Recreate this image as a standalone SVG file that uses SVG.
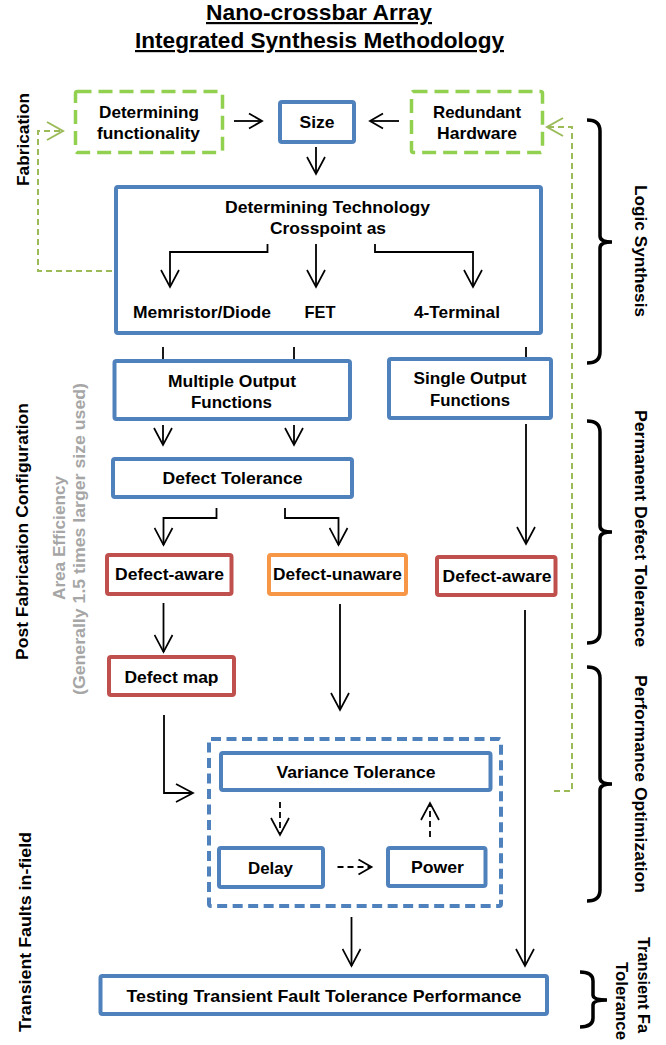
<svg xmlns="http://www.w3.org/2000/svg" width="666" height="1045" viewBox="0 0 666 1045">
<style>
text{font-family:"Liberation Sans",Arial,sans-serif;font-weight:bold;fill:#000;}
.t{font-size:17px;text-anchor:middle;}
.title{font-size:22px;text-anchor:middle;text-decoration:underline;}
.side{font-size:17px;text-anchor:middle;}
.gray{fill:#A6A6A6;}
.blue{fill:#fff;stroke:#4F81BD;stroke-width:4;}
.bluedash{fill:none;stroke:#4F81BD;stroke-width:4;stroke-dasharray:10 5.5;}
.red{fill:#fff;stroke:#C0504D;stroke-width:4;}
.orange{fill:#fff;stroke:#F79646;stroke-width:4;}
.green{fill:#fff;stroke:#92D050;stroke-width:3.5;stroke-dasharray:14 7;}
.c{fill:none;stroke:#000;stroke-width:1.8;}
.cd{fill:none;stroke:#000;stroke-width:1.8;stroke-dasharray:6 4;}
.g{fill:none;stroke:#9BBB59;stroke-width:2;stroke-dasharray:6 4;}
.br{fill:none;stroke:#000;stroke-width:3.5;}
</style>
<defs>
<marker id="ah" markerUnits="userSpaceOnUse" markerWidth="20" markerHeight="20" viewBox="0 0 20 20" refX="18" refY="10" orient="auto"><path d="M1,1 L18,10 L1,19" fill="none" stroke="#000" stroke-width="1.7"/></marker>
<marker id="ahs" markerUnits="userSpaceOnUse" markerWidth="20" markerHeight="20" viewBox="0 0 20 20" refX="16" refY="10" orient="auto"><path d="M3,2.5 L16,10 L3,17.5" fill="none" stroke="#000" stroke-width="1.8"/></marker>
<marker id="ahg" markerUnits="userSpaceOnUse" markerWidth="20" markerHeight="20" viewBox="0 0 20 20" refX="18" refY="10" orient="auto"><path d="M2,1 L18,10 L2,19" fill="none" stroke="#9BBB59" stroke-width="2"/></marker>
</defs>

<g id="title">
<text class="title" x="319" y="20" textLength="226" lengthAdjust="spacingAndGlyphs">Nano-crossbar Array</text>
<text class="title" x="319.5" y="48" textLength="369" lengthAdjust="spacingAndGlyphs">Integrated Synthesis Methodology</text>
</g>

<g id="n-detfunc"><rect class="green" x="75.5" y="91.5" width="147" height="61" rx="2"/>
<text class="t" x="149" y="118" textLength="100" lengthAdjust="spacingAndGlyphs">Determining</text>
<text class="t" x="148.5" y="139" textLength="103" lengthAdjust="spacingAndGlyphs">functionality</text></g>

<g id="n-size"><rect class="blue" x="280" y="102" width="74" height="40" rx="2"/>
<text class="t" x="317" y="128" textLength="35" lengthAdjust="spacingAndGlyphs">Size</text></g>

<g id="n-redundant"><rect class="green" x="411.5" y="91.5" width="131" height="61" rx="2"/>
<text class="t" x="477" y="118" textLength="88" lengthAdjust="spacingAndGlyphs">Redundant</text>
<text class="t" x="477" y="139" textLength="80" lengthAdjust="spacingAndGlyphs">Hardware</text></g>

<g id="n-tech"><rect class="blue" x="116" y="187" width="425" height="146" rx="2"/>
<text class="t" x="327.5" y="213" textLength="205" lengthAdjust="spacingAndGlyphs">Determining Technology</text>
<text class="t" x="328" y="234" textLength="116" lengthAdjust="spacingAndGlyphs">Crosspoint as</text>
<text class="t" x="202" y="318" textLength="138" lengthAdjust="spacingAndGlyphs">Memristor/Diode</text>
<text class="t" x="320" y="318" textLength="31" lengthAdjust="spacingAndGlyphs">FET</text>
<text class="t" x="457" y="318" textLength="86" lengthAdjust="spacingAndGlyphs">4-Terminal</text></g>

<g id="n-multi"><rect class="blue" x="114.5" y="361" width="235.5" height="58" rx="2"/>
<text class="t" x="232" y="387" textLength="128" lengthAdjust="spacingAndGlyphs">Multiple Output</text>
<text class="t" x="231.5" y="408" textLength="81" lengthAdjust="spacingAndGlyphs">Functions</text></g>

<g id="n-single"><rect class="blue" x="389" y="359" width="162" height="59" rx="2"/>
<text class="t" x="470" y="384" textLength="113" lengthAdjust="spacingAndGlyphs">Single Output</text>
<text class="t" x="470" y="406" textLength="80" lengthAdjust="spacingAndGlyphs">Functions</text></g>

<g id="n-deftol"><rect class="blue" x="113" y="459" width="239" height="38" rx="2"/>
<text class="t" x="232.5" y="484" textLength="140" lengthAdjust="spacingAndGlyphs">Defect Tolerance</text></g>

<g id="n-aware1"><rect class="red" x="107" y="555" width="124.5" height="39" rx="2"/>
<text class="t" x="169.5" y="580" textLength="109" lengthAdjust="spacingAndGlyphs">Defect-aware</text></g>

<g id="n-unaware"><rect class="orange" x="269" y="555" width="137" height="39" rx="2"/>
<text class="t" x="337.5" y="580" textLength="129" lengthAdjust="spacingAndGlyphs">Defect-unaware</text></g>

<g id="n-aware2"><rect class="red" x="437" y="557" width="118.5" height="38" rx="2"/>
<text class="t" x="497" y="582" textLength="109" lengthAdjust="spacingAndGlyphs">Defect-aware</text></g>

<g id="n-defmap"><rect class="red" x="109" y="657" width="125" height="38" rx="2"/>
<text class="t" x="171.5" y="683" textLength="94" lengthAdjust="spacingAndGlyphs">Defect map</text></g>

<g id="n-perf"><rect class="bluedash" x="209" y="739" width="292" height="167" rx="2"/></g>

<g id="n-variance"><rect class="blue" x="221" y="753" width="269.5" height="37" rx="2"/>
<text class="t" x="356" y="778" textLength="159" lengthAdjust="spacingAndGlyphs">Variance Tolerance</text></g>

<g id="n-delay"><rect class="blue" x="219" y="848" width="104" height="39" rx="2"/>
<text class="t" x="270.5" y="874" textLength="45" lengthAdjust="spacingAndGlyphs">Delay</text></g>

<g id="n-power"><rect class="blue" x="388" y="848" width="97.5" height="38" rx="2"/>
<text class="t" x="437.5" y="873" textLength="53" lengthAdjust="spacingAndGlyphs">Power</text></g>

<g id="n-testing"><rect class="blue" x="100.5" y="976" width="446.5" height="38" rx="2"/>
<text class="t" x="324" y="1002" textLength="395" lengthAdjust="spacingAndGlyphs">Testing Transient Fault Tolerance Performance</text></g>

<g id="connectors">
<path class="c" d="M234,121 L262,121" marker-end="url(#ahs)"/>
<path class="c" d="M399,121 L370,121" marker-end="url(#ahs)"/>
<path class="c" d="M316,147 L316,174" marker-end="url(#ah)"/>
<path class="c" d="M267.5,244 L267.5,252 L170,252 L170,287" marker-end="url(#ah)"/>
<path class="c" d="M316,244 L316,287" marker-end="url(#ah)"/>
<path class="c" d="M375,244 L375,252 L473,252 L473,287" marker-end="url(#ah)"/>
<path class="c" d="M163,347 L163,359"/>
<path class="c" d="M294,347 L294,359"/>
<path class="c" d="M526,347 L526,357"/>
<path class="c" d="M163,425 L163,445" marker-end="url(#ah)"/>
<path class="c" d="M294,425 L294,445" marker-end="url(#ah)"/>
<path class="c" d="M526,424 L526,544" marker-end="url(#ah)"/>
<path class="c" d="M216.5,508 L216.5,518 L163.5,518 L163.5,545" marker-end="url(#ah)"/>
<path class="c" d="M285,508 L285,518 L338.5,518 L338.5,545" marker-end="url(#ah)"/>
<path class="c" d="M163.5,603 L163.5,652" marker-end="url(#ah)"/>
<path class="c" d="M340,604 L340,710" marker-end="url(#ah)"/>
<path class="c" d="M164,715 L164,793 L193,793" marker-end="url(#ah)"/>
<path class="c" d="M525,610 L525,966" marker-end="url(#ah)"/>
<path class="c" d="M351.5,917 L351.5,966" marker-end="url(#ah)"/>
<path class="cd" d="M280,802 L280,835" marker-end="url(#ah)"/>
<path class="cd" d="M337.5,867 L371.5,867" marker-end="url(#ahs)"/>
<path class="cd" d="M430,837 L430,803" marker-end="url(#ah)"/>
<path class="g" d="M112,271 L38,271 L38,131 L63,131" marker-end="url(#ahg)"/>
<path class="g" d="M554,791 L572,791 L572,127 L547,127" marker-end="url(#ahg)"/>
</g>

<g id="left-labels">
<text class="side" transform="translate(29,139.5) rotate(-90)" textLength="93" lengthAdjust="spacingAndGlyphs">Fabrication</text>
<text class="side" transform="translate(28,531.5) rotate(-90)" textLength="257" lengthAdjust="spacingAndGlyphs">Post Fabrication Configuration</text>
<text class="side gray" transform="translate(65,538) rotate(-90)" textLength="124" lengthAdjust="spacingAndGlyphs">Area Efficiency</text>
<text class="side gray" transform="translate(85,539) rotate(-90)" textLength="312" lengthAdjust="spacingAndGlyphs">(Generally 1.5 times larger size used)</text>
<text class="side" transform="translate(31,932) rotate(-90)" textLength="200" lengthAdjust="spacingAndGlyphs">Transient Faults in-field</text>
</g>

<g id="brackets">
<path class="br" d="M587,120 Q600,120 600,131 L600,236 Q600,242 612,242 Q600,242 600,248 L600,352 Q600,363 587,363"/>
<path class="br" d="M587,421 Q600,421 600,432 L600,526 Q600,532 612,532 Q600,532 600,538 L600,632 Q600,643 587,643"/>
<path class="br" d="M587,667 Q600,667 600,678 L600,778 Q600,784 612,784 Q600,784 600,790 L600,890 Q600,901 587,901"/>
<path class="br" d="M580,972 Q593,972 593,981 L593,995 Q593,1000 607,1000 Q593,1000 593,1005 L593,1018 Q593,1027 580,1027"/>
</g>

<g id="right-labels">
<text class="side" transform="translate(635,251) rotate(90)" textLength="132" lengthAdjust="spacingAndGlyphs">Logic Synthesis</text>
<text class="side" transform="translate(635,528.5) rotate(90)" textLength="237" lengthAdjust="spacingAndGlyphs">Permanent Defect Tolerance</text>
<text class="side" transform="translate(635,784) rotate(90)" textLength="218" lengthAdjust="spacingAndGlyphs">Performance Optimization</text>
<text transform="translate(638,937) rotate(90)" style="font-size:17px" textLength="96" lengthAdjust="spacingAndGlyphs">Transient Fa</text>
<text class="side" transform="translate(616,1001) rotate(90)" textLength="78" lengthAdjust="spacingAndGlyphs">Tolerance</text>
</g>
</svg>
